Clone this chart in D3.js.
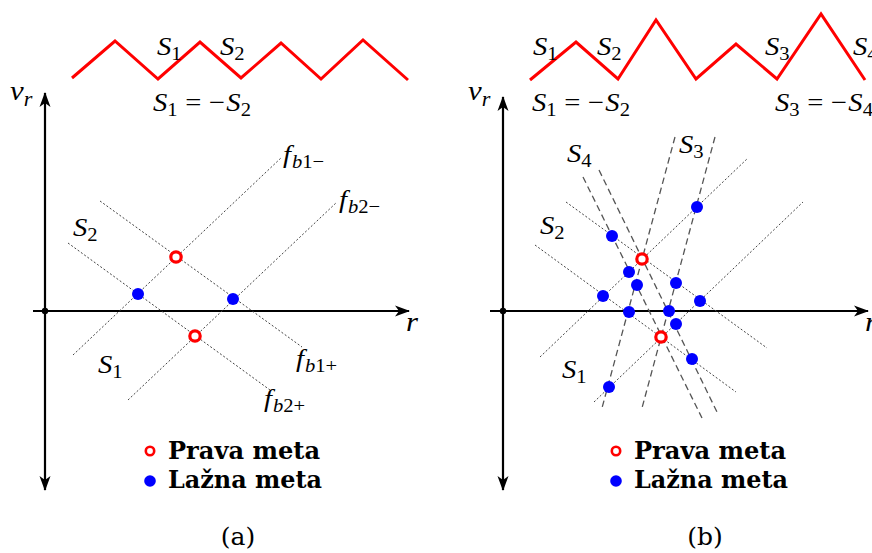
<!DOCTYPE html>
<html>
<head>
<meta charset="utf-8">
<script src="https://cdn.jsdelivr.net/npm/d3@7"></script>
<style>
  html, body { margin: 0; padding: 0; background: #fff; }
  svg { display: block; }
</style>
</head>
<body>
<svg id="fig" width="872" height="553"></svg>
<script>
// ---------------------------------------------------------------
// Data. Targets and lines live in the (r, v_r) plane of each panel.
// ---------------------------------------------------------------

// (a) two-slope modulation
const realTargetsA  = [[13.1, 5.4], [15.0, -2.5]];
const ghostTargetsA = [[9.3, 1.7], [18.8, 1.2]];
const beatLinesA = [
  { id: "fb1-", from: [2.8, -4.4], to: [23.7, 15.4] },
  { id: "fb2-", from: [8.3, -8.9], to: [29.2, 10.9] },
  { id: "fb1+", from: [5.5, 11.0], to: [25.7, -3.6] },
  { id: "fb2+", from: [2.3, 6.8],  to: [22.5, -7.9] }
];
// modulation waveform (time, frequency offset)
const waveA_t = [0, 4.3, 8.6, 12.8, 16.9, 20.9, 24.9, 29.1, 33.6];
const waveA_f = [0.1, 3.8, 0, 3.7, 0.1, 3.6, 0, 3.9, -0.1];

// (b) four-slope modulation
const realTargetsB  = [[13.9, 5.2], [15.8, -2.6]];
const ghostTargetsB = [
  [10.9, 7.5], [19.4, 10.4], [12.6, 3.9], [13.4, 2.6], [17.3, 2.8], [10.0, 1.5],
  [19.7, 1.0], [12.6, -0.1], [16.6, 0.0], [17.3, -1.3], [18.9, -4.8], [10.6, -7.6]
];
const beatLinesB = [             // S1 / S2 slopes
  { from: [3.7, -4.6], to: [24.5, 15.3] },
  { from: [9.1, -9.1], to: [30.0, 10.9] },
  { from: [6.3, 10.9], to: [26.4, -3.7] },
  { from: [3.2, 6.6],  to: [23.3, -8.1] }
];
const steepLinesB = [            // S3 / S4 slopes
  { from: [17.2, 17.4], to: [9.9, -9.7] },
  { from: [21.2, 17.4], to: [13.9, -9.7] },
  { from: [8.0, 13.4],  to: [19.9, -10.7] },
  { from: [9.6, 14.1],  to: [21.4, -10.1] }
];
const waveB_t = [0, 4.6, 8.8, 12.6, 16.6, 20.6, 24.7, 29.1, 33.5];
const waveB_f = [-0.1, 3.7, 0, 5.9, 0, 3.5, 0, 6.5, -0.1];

const legendLabels = ["Prava meta", "Lažna meta"];
const captions = ["(a)", "(b)"];

// ---------------------------------------------------------------
const svg = d3.select("#fig");
const MATH = '"Liberation Serif"';
const BOLD = '"DejaVu Serif"';

// math-style label: segs = [[text, kind, dx]], kind: i = italic, r = roman,
// si = italic subscript, sr = roman subscript
function math(g, x, y, segs, size = 26) {
  const t = g.append("text")
    .attr("transform", `translate(${x},${y}) scale(1.1,1)`)
    .style("font-family", MATH).style("font-size", size + "px")
    .attr("fill", "#000");
  let down = false;
  const shift = Math.round(size * 0.2);
  segs.forEach(([s, kind, dx]) => {
    const sub = kind[0] === "s";
    const ts = t.append("tspan").text(s)
      .style("font-family", MATH)
      .style("font-style", kind.endsWith("i") ? "italic" : "normal")
      .style("font-size", (sub ? size * 0.72 : size) + "px");
    let dy = 0;
    if (sub && !down) { dy = shift; down = true; }
    if (!sub && down) { dy = -shift; down = false; }
    if (dy) ts.attr("dy", dy);
    if (dx) ts.attr("dx", dx);
  });
  return t;
}

function arrowHead(g, x, y, angle) {
  g.append("path")
    .attr("d", "M0,0 L-15,-5.5 L-11,0 L-15,5.5 Z")
    .attr("transform", `translate(${x},${y}) rotate(${angle})`)
    .attr("fill", "#000");
}

function panel(cfg) {
  const g = svg.append("g");
  const x = d3.scaleLinear().domain([0, 10]).range([cfg.ox, cfg.ox + 100]);
  const y = d3.scaleLinear().domain([0, 10]).range([cfg.oy, cfg.oy - 100]);
  const line = d3.line().x(d => x(d[0])).y(d => y(d[1]));

  // modulation waveform
  const wx = d3.scaleLinear().domain([0, 10]).range([cfg.wx0, cfg.wx0 + 100]);
  const wy = d3.scaleLinear().domain([0, 10]).range([cfg.wy0, cfg.wy0 - 100]);
  g.append("path")
    .datum(cfg.wt.map((t, i) => [t, cfg.wf[i]]))
    .attr("d", d3.line().x(d => wx(d[0])).y(d => wy(d[1])))
    .attr("fill", "none").attr("stroke", "#ff0000")
    .attr("stroke-width", 3).attr("stroke-linejoin", "miter");

  // axes
  const ax = g.append("g");
  ax.append("path").datum([[cfg.xr[0], 0], [cfg.xr[1], 0]])
    .attr("d", line).attr("stroke", "#000").attr("stroke-width", 2.2);
  ax.append("path").datum([[0, cfg.yr[0]], [0, cfg.yr[1]]])
    .attr("d", line).attr("stroke", "#000").attr("stroke-width", 2.2);
  arrowHead(ax, x(cfg.xr[1]) + 1, y(0), 0);
  arrowHead(ax, x(0), y(cfg.yr[1]) - 1, -90);
  arrowHead(ax, x(0), y(cfg.yr[0]) + 1, 90);
  ax.append("circle").attr("cx", x(0)).attr("cy", y(0)).attr("r", 3.2).attr("fill", "#000");

  // beat-frequency lines
  g.selectAll(null).data(cfg.dotted).enter().append("path")
    .attr("d", d => line([d.from, d.to]))
    .attr("fill", "none").attr("stroke", "#444")
    .attr("stroke-width", 1).attr("stroke-dasharray", "2,2");
  g.selectAll(null).data(cfg.dashed || []).enter().append("path")
    .attr("d", d => line([d.from, d.to]))
    .attr("fill", "none").attr("stroke", "#555")
    .attr("stroke-width", 1.3).attr("stroke-dasharray", "6.5,4");

  // targets
  g.selectAll(null).data(cfg.ghost).enter().append("circle")
    .attr("cx", d => x(d[0])).attr("cy", d => y(d[1])).attr("r", 6)
    .attr("fill", "#0000ff");
  g.selectAll(null).data(cfg.real).enter().append("circle")
    .attr("cx", d => x(d[0])).attr("cy", d => y(d[1])).attr("r", 5.2)
    .attr("fill", "#fff").attr("stroke", "#ff0000").attr("stroke-width", 3.2);

  // legend
  const lg = g.append("g");
  lg.append("circle").attr("cx", cfg.lx).attr("cy", 451).attr("r", 4.2)
    .attr("fill", "#fff").attr("stroke", "#ff0000").attr("stroke-width", 2.6);
  lg.append("circle").attr("cx", cfg.lx).attr("cy", 481).attr("r", 5.8)
    .attr("fill", "#0000ff");
  lg.selectAll(null).data(legendLabels).enter().append("text")
    .attr("x", cfg.lx + 18).attr("y", (d, i) => 459 + i * 29)
    .style("font-family", BOLD).style("font-weight", "bold").style("font-size", "24px")
    .attr("textLength", (d, i) => i ? 154 : 152).attr("lengthAdjust", "spacingAndGlyphs")
    .attr("fill", "#000").text(d => d);

  // caption
  g.append("text").attr("x", cfg.cx).attr("y", 545).attr("text-anchor", "middle")
    .style("font-family", BOLD).style("font-size", "25px").attr("fill", "#000")
    .text(cfg.caption);

  // axis titles
  math(g, cfg.ox - 35, 100, [["v", "i"], ["r", "si"]], 28);
  math(g, x(cfg.xr[1]) - 3, 331, [["r", "i"]], 28);
  return g;
}

// ---- panel (a)
const ga = panel({
  ox: 45, oy: 311, xr: [-1.2, 36.4], yr: [-17.9, 21.8],
  wx0: 72, wy0: 79, wt: waveA_t, wf: waveA_f,
  dotted: beatLinesA, real: realTargetsA, ghost: ghostTargetsA,
  lx: 150, cx: 238, caption: captions[0]
});
math(ga, 157, 55, [["S", "i"], ["1", "sr"]]);
math(ga, 220, 55, [["S", "i"], ["2", "sr"]]);
math(ga, 153, 111, [["S", "i"], ["1", "sr"], ["=", "r", 7], ["−", "r", 7], ["S", "i", 1], ["2", "sr"]]);
math(ga, 73, 236, [["S", "i"], ["2", "sr"]]);
math(ga, 98, 373, [["S", "i"], ["1", "sr"]]);
math(ga, 283, 163, [["f", "i"], ["b", "si", 1], ["1−", "sr"]]);
math(ga, 339, 208, [["f", "i"], ["b", "si", 1], ["2−", "sr"]]);
math(ga, 296, 367, [["f", "i"], ["b", "si", 1], ["1+", "sr"]]);
math(ga, 264, 407, [["f", "i"], ["b", "si", 1], ["2+", "sr"]]);

// ---- panel (b)
const gb = panel({
  ox: 503, oy: 311, xr: [-1.3, 36.5], yr: [-17.9, 21.4],
  wx0: 530, wy0: 79, wt: waveB_t, wf: waveB_f,
  dotted: beatLinesB, dashed: steepLinesB, real: realTargetsB, ghost: ghostTargetsB,
  lx: 616, cx: 705, caption: captions[1]
});
math(gb, 533, 55, [["S", "i"], ["1", "sr"]]);
math(gb, 597, 55, [["S", "i"], ["2", "sr"]]);
math(gb, 765, 55, [["S", "i"], ["3", "sr"]]);
math(gb, 853, 55, [["S", "i"], ["4", "sr"]]);
math(gb, 532, 111, [["S", "i"], ["1", "sr"], ["=", "r", 7], ["−", "r", 7], ["S", "i", 1], ["2", "sr"]]);
math(gb, 775, 111, [["S", "i"], ["3", "sr"], ["=", "r", 7], ["−", "r", 7], ["S", "i", 1], ["4", "sr"]]);
math(gb, 567, 162, [["S", "i"], ["4", "sr"]]);
math(gb, 679, 153, [["S", "i"], ["3", "sr"]]);
math(gb, 540, 234, [["S", "i"], ["2", "sr"]]);
math(gb, 562, 378, [["S", "i"], ["1", "sr"]]);
</script>
</body>
</html>
